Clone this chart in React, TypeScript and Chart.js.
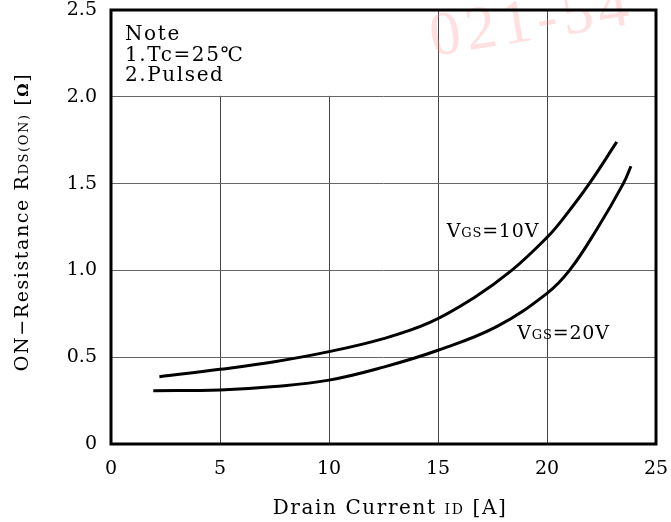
import React, { useEffect, useRef } from "react";
import { Chart, registerables } from "chart.js";

Chart.register(...registerables);

const xTicks = [0, 5, 10, 15, 20, 25];
const yTickLabels = ["0", "0.5", "1.0", "1.5", "2.0", "2.5"];

const vgs10X = [2.22, 5, 7.5, 10, 12.5, 14.63, 16.62, 18.38, 20, 20.75, 21.94, 23.2];
const vgs10Y = [0.388, 0.43, 0.474, 0.532, 0.607, 0.7, 0.84, 1.0, 1.19, 1.3, 1.5, 1.74];

const vgs20X = [1.94, 5, 7.5, 10, 12.5, 15, 17.69, 20, 21.03, 22.3, 23.5, 23.85];
const vgs20Y = [0.307, 0.311, 0.331, 0.368, 0.443, 0.54, 0.676, 0.868, 1.0, 1.24, 1.5, 1.6];

const noteLines = ["Note", "1.Tc=25\u2103", "2.Pulsed"];
const noteBox = { xMax: 14.9, yMin: 2.0 };
const seriesLabels = [
  { main: "V", sub: "GS", rest: "=10V", x: 15.4, y: 1.23 },
  { main: "V", sub: "GS", rest: "=20V", x: 18.64, y: 0.645 },
];
const watermark = "021-54";

const FONT = "'DejaVu Serif', serif";

type Run = { text: string; size: number; bold?: boolean };

function runsWidth(ctx: CanvasRenderingContext2D, runs: Run[]) {
  let w = 0;
  for (const r of runs) {
    ctx.font = `${r.bold ? "bold " : ""}${r.size}px ${FONT}`;
    w += ctx.measureText(r.text).width;
  }
  return w;
}

function drawRuns(
  ctx: CanvasRenderingContext2D,
  runs: Run[],
  x: number,
  y: number,
  align: "left" | "center"
) {
  let cx = x;
  if (align === "center") cx = x - runsWidth(ctx, runs) / 2;
  ctx.textAlign = "left";
  ctx.textBaseline = "alphabetic";
  for (const r of runs) {
    ctx.font = `${r.bold ? "bold " : ""}${r.size}px ${FONT}`;
    ctx.fillText(r.text, cx, y);
    cx += ctx.measureText(r.text).width;
  }
}

const decorPlugin = {
  id: "decor",
  beforeDraw(chart: any) {
    const ctx = chart.ctx as CanvasRenderingContext2D;
    ctx.save();
    ctx.fillStyle = "#ffffff";
    ctx.fillRect(0, 0, chart.width, chart.height);
    ctx.restore();
  },
  beforeDatasetsDraw(chart: any) {
    const ctx = chart.ctx as CanvasRenderingContext2D;
    const a = chart.chartArea;
    const xs = chart.scales.x;
    const ys = chart.scales.y;
    ctx.save();
    // clear grid inside note box
    const bx = xs.getPixelForValue(noteBox.xMax);
    const by = ys.getPixelForValue(noteBox.yMin);
    ctx.fillStyle = "#ffffff";
    ctx.fillRect(a.left, a.top, bx - a.left, by - a.top - 1);
    ctx.restore();
    // watermark
    ctx.save();
    ctx.translate(433, 56);
    ctx.rotate(-0.16);
    ctx.font = `62px 'Liberation Serif', serif`;
    (ctx as any).letterSpacing = "5px";
    ctx.fillStyle = "rgba(255, 150, 150, 0.3)";
    ctx.textAlign = "left";
    ctx.textBaseline = "alphabetic";
    ctx.fillText(watermark, 0, 0);
    ctx.restore();
  },
  afterDraw(chart: any) {
    const ctx = chart.ctx as CanvasRenderingContext2D;
    const a = chart.chartArea;
    const xs = chart.scales.x;
    const ys = chart.scales.y;
    ctx.save();
    // frame
    ctx.strokeStyle = "#000";
    ctx.lineWidth = 3;
    ctx.strokeRect(a.left, a.top, a.right - a.left, a.bottom - a.top);
    ctx.fillStyle = "#000";
    (ctx as any).letterSpacing = "1.6px";
    // note
    noteLines.forEach((t, i) => {
      ctx.font = `20px ${FONT}`;
      ctx.textAlign = "left";
      ctx.textBaseline = "alphabetic";
      ctx.fillText(t, a.left + 14, 40 + i * 20.5);
    });
    // series labels
    (ctx as any).letterSpacing = "0.8px";
    for (const s of seriesLabels) {
      const px = xs.getPixelForValue(s.x);
      const py = ys.getPixelForValue(s.y) + 7;
      drawRuns(
        ctx,
        [
          { text: s.main, size: 19 },
          { text: s.sub, size: 13 },
          { text: s.rest, size: 19 },
        ],
        px,
        py,
        "left"
      );
    }
    (ctx as any).letterSpacing = "1.6px";
    // x title
    drawRuns(
      ctx,
      [
        { text: "Drain Current ", size: 20 },
        { text: "ID", size: 14 },
        { text: " [A]", size: 20 },
      ],
      390,
      514,
      "center"
    );
    // y title
    ctx.translate(28, 222);
    ctx.rotate(-Math.PI / 2);
    drawRuns(
      ctx,
      [
        { text: "ON\u2212Resistance R", size: 19 },
        { text: "DS(ON)", size: 13 },
        { text: " [", size: 19 },
        { text: "\u03A9", size: 15, bold: true },
        { text: "]", size: 19 },
      ],
      0,
      0,
      "center"
    );
    ctx.restore();
  },
};

export default function App() {
  const ref = useRef<HTMLCanvasElement | null>(null);
  useEffect(() => {
    document.body.style.margin = "0";
    if (!ref.current) return;
    const chart = new Chart(ref.current, {
      type: "scatter",
      data: {
        datasets: [
          {
            label: "VGS=10V",
            data: vgs10X.map((x, i) => ({ x, y: vgs10Y[i] })),
            showLine: true,
            borderColor: "#000",
            borderWidth: 3,
            pointRadius: 0,
            tension: 0.4,
          } as any,
          {
            label: "VGS=20V",
            data: vgs20X.map((x, i) => ({ x, y: vgs20Y[i] })),
            showLine: true,
            borderColor: "#000",
            borderWidth: 3,
            pointRadius: 0,
            tension: 0.4,
          } as any,
        ],
      },
      options: {
        animation: false,
        responsive: false,
        layout: { padding: { top: 10, right: 15, left: 0, bottom: 0 } },
        plugins: { legend: { display: false }, tooltip: { enabled: false } },
        scales: {
          x: {
            type: "linear",
            min: 0,
            max: 25,
            afterFit: (s: any) => {
              s.height = 78;
              s.paddingLeft = 0;
              s.paddingRight = 0;
            },
            afterBuildTicks: (s: any) => {
              s.ticks = xTicks.map((v) => ({ value: v }));
            },
            border: { display: false },
            grid: { color: "#444", lineWidth: 1, drawTicks: false },
            ticks: {
              padding: 14,
              color: "#000",
              font: { family: FONT, size: 19 },
              callback: (v: any) => String(v),
            },
          },
          y: {
            type: "linear",
            min: 0,
            max: 2.5,
            afterFit: (s: any) => {
              s.width = 111;
              s.paddingTop = 0;
              s.paddingBottom = 0;
            },
            afterBuildTicks: (s: any) => {
              s.ticks = yTickLabels.map((_, i) => ({ value: i * 0.5 }));
            },
            border: { display: false },
            grid: { color: "#666", lineWidth: 1, drawTicks: false },
            ticks: {
              padding: 14,
              color: "#000",
              font: { family: FONT, size: 19 },
              callback: (_v: any, i: number) => yTickLabels[i],
            },
          },
        },
      },
      plugins: [decorPlugin],
    });
    return () => chart.destroy();
  }, []);
  return (
    <div style={{ width: 671, height: 522 }}>
      <canvas ref={ref} width={671} height={522} style={{ display: "block" }} />
    </div>
  );
}
